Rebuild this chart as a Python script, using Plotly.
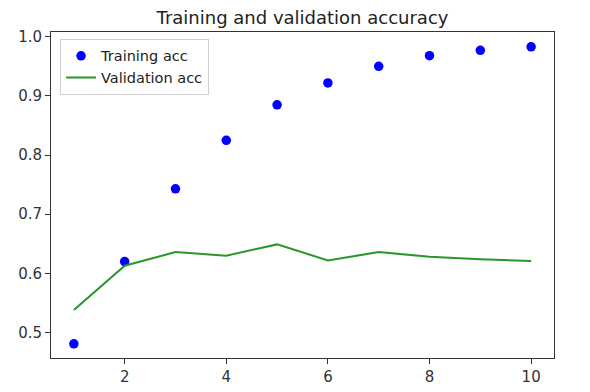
import plotly.graph_objects as go

epochs = [1, 2, 3, 4, 5, 6, 7, 8, 9, 10]
train_acc = [0.481, 0.620, 0.743, 0.825, 0.885, 0.922, 0.950, 0.968, 0.977, 0.983]
val_acc = [0.538, 0.613, 0.636, 0.630, 0.649, 0.622, 0.636, 0.628, 0.624, 0.621]
x_ticks = [2, 4, 6, 8, 10]
y_ticks = [0.5, 0.6, 0.7, 0.8, 0.9, 1.0]

FONT = "DejaVu Sans"

fig = go.Figure()
fig.add_trace(go.Scatter(x=epochs, y=train_acc, mode="markers", name="Training acc",
                         marker=dict(color="#0000ff", size=9.5)))
fig.add_trace(go.Scatter(x=epochs, y=val_acc, mode="lines", name="Validation acc",
                         line=dict(color="#2a962a", width=2)))

axis_common = dict(showline=True, linecolor="#333333", linewidth=1, mirror=True,
                   ticks="outside", ticklen=5, tickcolor="#333333", showgrid=False,
                   zeroline=False, automargin=False,
                   tickfont=dict(family=FONT, size=15, color="#333333"))

fig.update_layout(
    width=590, height=392, autosize=False,
    margin=dict(l=51, r=36, t=32, b=34),
    paper_bgcolor="white", plot_bgcolor="white",
    title=dict(text="Training and validation accuracy", x=0.5, xref="paper", xanchor="center",
               y=1, yref="paper", yanchor="bottom", pad=dict(b=8), automargin=False,
               font=dict(family=FONT, size=18, color="#222222")),
    xaxis=dict(range=[0.55, 10.45], tickvals=x_ticks, **axis_common),
    yaxis=dict(range=[0.457, 1.008], tickvals=y_ticks, tickformat=".1f", **axis_common),
    legend=dict(x=0.018, y=0.979, xanchor="left", yanchor="top",
                bordercolor="#d0d0d0", borderwidth=1, bgcolor="rgba(255,255,255,0.8)",
                font=dict(family=FONT, size=14.5, color="#222222"),
                tracegroupgap=0, itemwidth=30),
    showlegend=True,
)

fig.write_html("out.html",
               config={"displayModeBar": False, "responsive": False},
               post_script="document.body.style.margin='0';document.body.style.overflow='hidden';")
